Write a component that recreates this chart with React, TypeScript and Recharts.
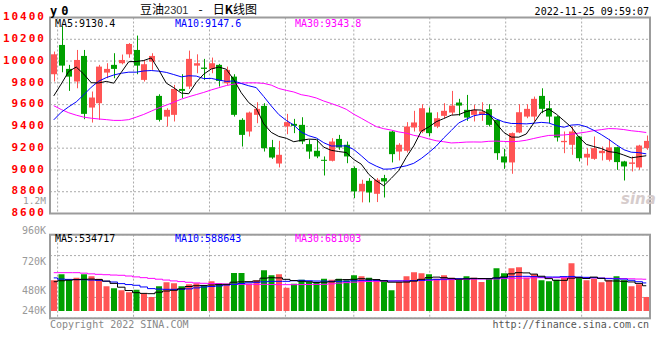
import React from 'react';
import { ComposedChart, Bar, Line, XAxis, YAxis, CartesianGrid, Cell } from 'recharts';

const MONO = "'DejaVu Sans Mono', 'Liberation Mono', monospace";
const RED = '#ff5555';
const GREEN = '#00a000';

const dates = [
  '07-29', '08-01', '08-02', '08-03', '08-04', '08-05', '08-08', '08-09', '08-10', '08-11',
  '08-12', '08-15', '08-16', '08-17', '08-18', '08-19', '08-22', '08-23', '08-24', '08-25',
  '08-26', '08-29', '08-30', '08-31', '09-01', '09-02', '09-05', '09-06', '09-07', '09-08',
  '09-09', '09-13', '09-14', '09-15', '09-16', '09-19', '09-20', '09-21', '09-22', '09-23',
  '09-26', '09-27', '09-28', '09-29', '09-30', '10-10', '10-11', '10-12', '10-13', '10-14',
  '10-17', '10-18', '10-19', '10-20', '10-21', '10-24', '10-25', '10-26', '10-27', '10-28',
  '10-31', '11-01', '11-02', '11-03', '11-04', '11-07', '11-08', '11-09', '11-10', '11-11',
  '11-14', '11-15', '11-16', '11-17', '11-18', '11-21', '11-22', '11-23', '11-24', '11-25',
];

const opens = [
  9879, 10148, 9928, 9812, 10047, 9573, 9613, 9894, 9965, 9980,
  10062, 10102, 9827, 9995, 9680, 9490, 9506, 9744, 9766, 9958,
  9940, 9928, 9965, 9796, 9857, 9460, 9353, 9506, 9588, 9209,
  9059, 9399, 9423, 9414, 9237, 9176, 9093, 9084, 9285, 9231,
  9017, 8803, 8900, 8781, 8925, 9353, 9169, 9176, 9390, 9353,
  9527, 9399, 9497, 9527, 9619, 9552, 9506, 9506, 9558, 9460,
  9124, 9069, 9344, 9490, 9490, 9680, 9567, 9491, 9255, 9231,
  9307, 9114, 9102, 9154, 9093, 9209, 9078, 9056, 9023, 9200,
];
const highs = [
  10087, 10320, 9965, 10102, 10102, 9720, 9965, 9980, 10072, 10060,
  10165, 10234, 10010, 10072, 9695, 9567, 9781, 9879, 10096, 10062,
  10020, 10032, 9974, 9949, 9879, 9475, 9536, 9622, 9613, 9276,
  9267, 9515, 9469, 9484, 9276, 9285, 9124, 9292, 9322, 9261,
  9032, 8910, 8925, 8925, 8955, 9360, 9246, 9439, 9543, 9604,
  9573, 9530, 9613, 9726, 9653, 9689, 9598, 9622, 9604, 9466,
  9194, 9344, 9604, 9604, 9674, 9750, 9634, 9496, 9353, 9399,
  9312, 9200, 9307, 9215, 9285, 9214, 9084, 9124, 9231, 9316,
];
const lows = [
  9812, 9897, 9726, 9750, 9466, 9435, 9460, 9842, 9842, 9970,
  10030, 9879, 9812, 9919, 9445, 9399, 9445, 9659, 9744, 9888,
  9827, 9888, 9766, 9781, 9490, 9215, 9307, 9429, 9169, 9102,
  9023, 9328, 9338, 9237, 9102, 9108, 8949, 9078, 9185, 9062,
  8741, 8702, 8702, 8705, 8747, 9069, 9087, 9160, 9353, 9338,
  9307, 9384, 9475, 9506, 9497, 9451, 9445, 9451, 9399, 9093,
  9010, 8965, 9338, 9475, 9445, 9521, 9429, 9261, 9154, 9139,
  9078, 9041, 9093, 9087, 9078, 9001, 8903, 8986, 9001, 9185,
];
const closes = [
  10062, 9958, 9857, 10010, 9515, 9665, 9949, 9928, 9928, 10010,
  10157, 9958, 9971, 10047, 9460, 9552, 9744, 9726, 10020, 9980,
  9928, 9980, 9818, 9919, 9506, 9322, 9527, 9561, 9200, 9114,
  9139, 9439, 9405, 9261, 9169, 9124, 9084, 9261, 9206, 9124,
  8803, 8873, 8793, 8910, 8894, 9145, 9231, 9399, 9436, 9567,
  9338, 9475, 9543, 9591, 9591, 9481, 9552, 9536, 9414, 9154,
  9069, 9338, 9530, 9561, 9653, 9561, 9490, 9298, 9267, 9353,
  9108, 9148, 9200, 9176, 9206, 9072, 9032, 9069, 9224, 9267,
];

const ma5 = [
  9680, 9790, 9905, 9945, 9880, 9801, 9799, 9813, 9797, 9896,
  9994, 9996, 10005, 10029, 9919, 9798, 9755, 9706, 9700, 9804,
  9880, 9927, 9945, 9925, 9830, 9709, 9618, 9567, 9423, 9345,
  9308, 9291, 9259, 9272, 9283, 9280, 9209, 9180, 9169, 9160,
  9096, 9053, 8960, 8901, 8855, 8923, 8995, 9116, 9221, 9356,
  9394, 9443, 9472, 9503, 9508, 9536, 9552, 9550, 9515, 9427,
  9345, 9302, 9301, 9330, 9430, 9529, 9559, 9513, 9454, 9394,
  9303, 9235, 9215, 9197, 9168, 9160, 9137, 9111, 9121, 9130.4,
];
const ma10 = [
  9460, 9530, 9580, 9625, 9690, 9760, 9815, 9848, 9872, 9888,
  9898, 9898, 9909, 9913, 9907, 9896, 9876, 9855, 9865, 9862,
  9839, 9841, 9826, 9813, 9817, 9794, 9773, 9756, 9674, 9588,
  9509, 9455, 9413, 9347, 9314, 9294, 9250, 9220, 9220, 9221,
  9188, 9131, 9070, 9035, 9007, 9009, 9024, 9038, 9061, 9105,
  9159, 9219, 9294, 9362, 9432, 9465, 9497, 9511, 9509, 9468,
  9441, 9427, 9426, 9423, 9429, 9437, 9431, 9407, 9392, 9412,
  9416, 9397, 9364, 9325, 9281, 9232, 9186, 9163, 9159, 9147.6,
];
const ma30 = [
  9590, 9555, 9525, 9503, 9485, 9475, 9468, 9462, 9455, 9455,
  9462, 9485, 9510, 9540, 9570, 9595, 9622, 9650, 9672, 9692,
  9712, 9735, 9755, 9775, 9788, 9798, 9800, 9800, 9795, 9779,
  9748, 9731, 9716, 9691, 9679, 9661, 9633, 9610, 9586, 9557,
  9512, 9475, 9436, 9398, 9379, 9366, 9349, 9338, 9318, 9305,
  9285, 9268, 9259, 9248, 9251, 9256, 9257, 9256, 9263, 9265,
  9262, 9259, 9263, 9273, 9289, 9304, 9317, 9319, 9321, 9328,
  9338, 9348, 9361, 9370, 9380, 9378, 9371, 9360, 9353, 9343.8,
];

// volumes in thousands
const volumes = [
  644, 770, 658, 700, 770, 728, 679, 518, 476, 434,
  392, 448, 364, 294, 518, 602, 581, 518, 560, 581,
  539, 623, 581, 553, 798, 798, 574, 644, 854, 749,
  770, 490, 574, 658, 609, 609, 679, 658, 679, 644,
  749, 728, 700, 658, 644, 434, 609, 728, 812, 791,
  770, 679, 749, 700, 658, 728, 700, 609, 679, 896,
  791, 896, 917, 700, 770, 644, 623, 658, 700, 1001,
  700, 644, 679, 602, 644, 728, 644, 518, 560, 294,
];
const volMa5 = [
  615, 635, 648, 658, 665, 670, 660, 628, 580, 500,
  430, 385, 370, 364, 395, 420, 435, 465, 515, 530,
  537, 545, 553, 560, 605, 612, 616, 630, 690, 698,
  695, 665, 640, 625, 615, 600, 605, 612, 655, 660,
  665, 678, 670, 660, 635, 605, 605, 608, 628, 665,
  700, 712, 700, 685, 668, 675, 686, 682, 680, 695,
  714, 780, 805, 800, 775, 730, 680, 644, 644, 690,
  700, 682, 712, 685, 632, 630, 625, 610, 580, 530,
];
const volMa10 = [
  695, 670, 664, 660, 658, 650, 644, 625, 609, 575,
  555, 540, 505, 470, 460, 455, 455, 458, 465, 485,
  504, 515, 525, 545, 560, 578, 592, 602, 612, 623,
  623, 623, 635, 644, 635, 630, 628, 623, 623, 625,
  635, 644, 644, 644, 638, 630, 630, 630, 638, 645,
  655, 665, 670, 675, 679, 679, 679, 679, 680, 690,
  700, 720, 728, 728, 722, 714, 714, 714, 722, 726,
  714, 707, 700, 690, 679, 675, 670, 645, 615, 590,
];
const volMa30 = [
  805, 805, 805, 805, 795, 780, 770, 762, 755, 750,
  735, 716, 700, 685, 668, 650, 632, 618, 603, 590,
  582, 578, 574, 567, 560, 560, 560, 560, 560, 556,
  554, 553, 553, 555, 556, 558, 560, 570, 585, 596,
  606, 616, 620, 623, 627, 630, 633, 636, 640, 643,
  645, 651, 657, 660, 664, 667, 671, 672, 672, 673,
  680, 686, 689, 692, 696, 699, 700, 700, 700, 700,
  700, 697, 694, 690, 687, 684, 680, 676, 671, 667,
];

const dateTicks = ['08-01', '08-15', '08-29', '09-13', '09-26', '10-17', '10-31', '11-14'];
const priceTicks = [8600, 8800, 9000, 9200, 9400, 9600, 9800, 10000, 10200, 10400];
const volTickLabels = ['960K', '720K', '480K', '240K'];
const priceLegend = [
  { text: 'MA5:9130.4', color: '#000000' },
  { text: 'MA10:9147.6', color: '#0000ff' },
  { text: 'MA30:9343.8', color: '#ff00ff' },
];
const volLegend = [
  { text: 'MA5:534717', color: '#000000' },
  { text: 'MA10:588643', color: '#0000ff' },
  { text: 'MA30:681003', color: '#ff00ff' },
];

const VOL_MIN = -153;
const VOL_MAX = 1602;

const N = dates.length;
const data = dates.map((d, i) => ({
  date: d,
  idx: i,
  open: opens[i],
  high: highs[i],
  low: lows[i],
  close: closes[i],
  range: [lows[i], highs[i]],
  ma5: ma5[i],
  ma10: ma10[i],
  ma30: ma30[i],
  volume: volumes[i],
  vma5: volMa5[i],
  vma10: volMa10[i],
  vma30: volMa30[i],
}));

// the source chart places its date grid on a slightly wider step than the candles
const dateTickValues = dateTicks.map((d) => (dates.indexOf(d) * N) / (N - 1) - 0.5);
const dateLabel = (v: number) => dates[Math.round(((v + 0.5) * (N - 1)) / N)];
const volGridTicks = [1, 2, 3].map((k) => VOL_MIN + (k * (VOL_MAX - VOL_MIN)) / 4);
const volVerticalGrid = ({ offset }: any) =>
  dateTickValues.map((v) => offset.left + ((v + 0.5) * offset.width) / N);

const Candle = (props: any) => {
  const { x, y, width, height, payload } = props;
  if (x == null || y == null) return null;
  const { open, close, high, low } = payload;
  const color = close >= open ? RED : GREEN;
  const span = high - low || 1;
  const toY = (v: number) => y + ((high - v) / span) * height;
  const cx = Math.round(x + width / 2) + 0.5;
  const top = toY(Math.max(open, close));
  const bot = toY(Math.min(open, close));
  const left = Math.round(x);
  return (
    <g>
      <line x1={cx} x2={cx} y1={y} y2={y + height} stroke={color} strokeWidth={1} />
      <rect x={left} y={top} width={Math.round(width)} height={Math.max(1, bot - top)} fill={color} />
    </g>
  );
};

const PriceTick = (props: any) => {
  const { x, y, payload } = props;
  return (
    <text
      x={x}
      y={y}
      dy="0.25em"
      textAnchor="end"
      fill="#ff0000"
      fontSize={11}
      fontWeight="bold"
      fontFamily={MONO}
      letterSpacing={2}
    >
      {payload.value}
    </text>
  );
};

const DateTick = (props: any) => {
  const { x, y, payload } = props;
  return (
    <text x={x} y={y} dy="0.71em" textAnchor="middle" fill="#0a88d8" fontSize={10} fontFamily={MONO}>
      {dateLabel(payload.value)}
    </text>
  );
};

const gridStyle = { stroke: '#aaaaaa', strokeDasharray: '2 2' };

export default function App() {
  return (
    <div style={{ position: 'absolute', left: 0, top: 0, width: 660, height: 360, background: '#fff' }}>
      <div style={{ position: 'absolute', left: 0, top: 0, width: 660, height: 232 }}>
        <ComposedChart width={660} height={232} data={data} margin={{ top: 17.5, right: 10, bottom: 4.5, left: 0 }}>
          <CartesianGrid xAxisId="num" yAxisId="price" {...gridStyle} />
          <XAxis xAxisId="cat" dataKey="date" hide />
          <XAxis
            xAxisId="num"
            type="number"
            dataKey="idx"
            domain={[-0.5, 79.5]}
            allowDataOverflow
            ticks={dateTickValues}
            interval={0}
            axisLine={false}
            tickLine={false}
            tickSize={0}
            tickMargin={4.5}
            height={14}
            tick={<DateTick />}
          />
          <YAxis
            yAxisId="price"
            domain={[8600, 10400]}
            ticks={priceTicks}
            allowDataOverflow
            width={50}
            axisLine={false}
            tickLine={false}
            tickSize={4}
            tickMargin={0}
            interval={0}
            tick={<PriceTick />}
          />
          <Bar xAxisId="cat" yAxisId="price" dataKey="range" barSize={6} shape={<Candle />} isAnimationActive={false} />
          <Line xAxisId="cat" yAxisId="price" dataKey="ma30" stroke="#ff00ff" strokeWidth={1} dot={false} isAnimationActive={false} />
          <Line xAxisId="cat" yAxisId="price" dataKey="ma10" stroke="#0000ff" strokeWidth={1} dot={false} isAnimationActive={false} />
          <Line xAxisId="cat" yAxisId="price" dataKey="ma5" stroke="#000000" strokeWidth={1} dot={false} isAnimationActive={false} />
        </ComposedChart>
      </div>
      <div style={{ position: 'absolute', left: 0, top: 232, width: 660, height: 88 }}>
        <ComposedChart width={660} height={88} data={data} margin={{ top: 2.7, right: 10, bottom: 1.7, left: 50 }}>
          <CartesianGrid yAxisId="vol" verticalCoordinatesGenerator={volVerticalGrid} {...gridStyle} />
          <XAxis dataKey="date" hide />
          <YAxis yAxisId="vol" domain={[VOL_MIN, VOL_MAX]} ticks={volGridTicks} allowDataOverflow hide />
          <Bar yAxisId="vol" dataKey="volume" barSize={6} isAnimationActive={false}>
            {data.map((d, i) => (
              <Cell key={i} fill={d.close >= d.open ? RED : GREEN} />
            ))}
          </Bar>
          <Line yAxisId="vol" type="step" dataKey="vma30" stroke="#ff00ff" strokeWidth={1} dot={false} isAnimationActive={false} />
          <Line yAxisId="vol" type="step" dataKey="vma10" stroke="#0000ff" strokeWidth={1} dot={false} isAnimationActive={false} />
          <Line yAxisId="vol" type="step" dataKey="vma5" stroke="#000000" strokeWidth={1} dot={false} isAnimationActive={false} />
        </ComposedChart>
      </div>
      <svg
        width={660}
        height={360}
        style={{ position: 'absolute', left: 0, top: 0, pointerEvents: 'none' }}
      >
        <rect x={50} y={17.5} width={600} height={196} fill="none" stroke="#9c9c9c" strokeWidth={2} />
        <rect x={50} y={234.7} width={600} height={83.6} fill="none" stroke="#9c9c9c" strokeWidth={2} />

        <text x={50} y={15} fontFamily={MONO} fontSize={12} fontWeight="bold" letterSpacing={4} fill="#000">
          y0
        </text>
        <text x={140} y={13.5} fontFamily="'Noto Sans CJK SC', sans-serif" fontSize={12} fill="#000">
          <tspan>豆油</tspan>
          <tspan fontFamily="'Liberation Sans', sans-serif" fontSize={11} fill="#333">2301</tspan>
          <tspan dx={10}>-</tspan>
          <tspan dx={10}>日</tspan>
          <tspan fontWeight="bold">K</tspan>
          <tspan>线图</tspan>
        </text>
        <text x={649} y={15} textAnchor="end" fontFamily={MONO} fontSize={10} fill="#000">
          2022-11-25 09:59:07
        </text>

        {priceLegend.map((l, k) => (
          <text key={l.text} x={55 + k * 120} y={27} fontFamily={MONO} fontSize={10} fill={l.color}>
            {l.text}
          </text>
        ))}
        {volLegend.map((l, k) => (
          <text key={l.text} x={55 + k * 120} y={242} fontFamily={MONO} fontSize={10} fill={l.color}>
            {l.text}
          </text>
        ))}

        <text x={46} y={203.5} textAnchor="end" fontFamily={MONO} fontSize={9.5} fill="#999">
          1.2M
        </text>
        {volTickLabels.map((t, k) => (
          <text
            key={t}
            x={46}
            y={[234, 264.5, 294, 314][k]}
            textAnchor="end"
            fontFamily={MONO}
            fontSize={10}
            fill="#999"
          >
            {t}
          </text>
        ))}

        <text x={621} y={204} fontFamily="'DejaVu Sans', sans-serif" fontSize={15} fontStyle="italic" fontWeight="bold" fill="#d6cccc">
          sina
        </text>

        <text x={50} y={327.5} fontFamily={MONO} fontSize={10} fill="#888">
          Copyright 2022 SINA.COM
        </text>
        <text x={649} y={327.5} textAnchor="end" fontFamily={MONO} fontSize={10} fill="#555">
          http://finance.sina.com.cn
        </text>
      </svg>
    </div>
  );
}
